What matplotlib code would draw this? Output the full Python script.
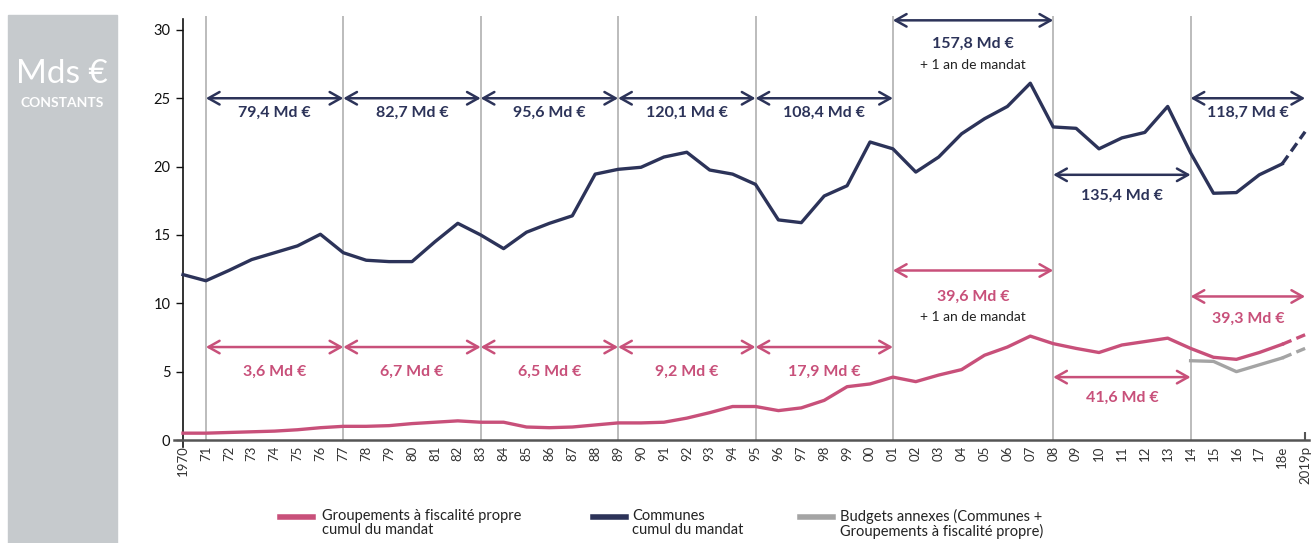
import matplotlib
matplotlib.use("Agg")
import matplotlib.pyplot as plt
from matplotlib.patches import Rectangle
from matplotlib.lines import Line2D

plt.rcParams['font.family'] = ['Lato', 'DejaVu Sans']

# Données (Mds € constants)
years = list(range(1970, 2020))
communes = [12.1, 11.65, 12.4, 13.2, 13.7, 14.2, 15.05, 13.7, 13.15, 13.05,
            13.05, 14.5, 15.85, 15.0, 14.0, 15.2, 15.85, 16.4, 19.45, 19.8,
            19.95, 20.7, 21.05, 19.75, 19.45, 18.7, 16.1, 15.9, 17.85, 18.6,
            21.8, 21.3, 19.6, 20.7, 22.4, 23.5, 24.4, 26.1, 22.9, 22.8,
            21.3, 22.1, 22.5, 24.4, 21.0, 18.05, 18.1, 19.4, 20.2, 22.55]
groupements = [0.5, 0.5, 0.55, 0.6, 0.65, 0.75, 0.9, 1.0, 1.0, 1.05,
               1.2, 1.3, 1.4, 1.3, 1.3, 0.95, 0.9, 0.95, 1.1, 1.25,
               1.25, 1.3, 1.6, 2.0, 2.45, 2.45, 2.15, 2.35, 2.9, 3.9,
               4.1, 4.6, 4.27, 4.75, 5.15, 6.2, 6.8, 7.6, 7.05, 6.7,
               6.4, 6.95, 7.2, 7.45, 6.7, 6.05, 5.9, 6.4, 7.0, 7.7]
budget_years = [2014, 2015, 2016, 2017, 2018, 2019]
budgets_annexes = [5.8, 5.75, 5.0, 5.5, 6.0, 6.7]

tick_labels = ["1970"] + [f"{y % 100:02d}" for y in range(1971, 2018)] + ["18e", "2019p"]

# Mandats et cumuls
mandat_lines = [1971, 1977, 1983, 1989, 1995, 2001, 2008, 2014]
communes_periods = [(1971, 1977), (1977, 1983), (1983, 1989), (1989, 1995),
                    (1995, 2001), (2001, 2008), (2008, 2014), (2014, 2019)]
communes_totals = ["79,4 Md €", "82,7 Md €", "95,6 Md €", "120,1 Md €",
                   "108,4 Md €", "157,8 Md €", "135,4 Md €", "118,7 Md €"]
groupements_periods = communes_periods
groupements_totals = ["3,6 Md €", "6,7 Md €", "6,5 Md €", "9,2 Md €",
                      "17,9 Md €", "39,6 Md €", "41,6 Md €", "39,3 Md €"]
extra_note = "+ 1 an de mandat"

navy = "#2c3359"
pink = "#c8507a"
grey = "#a4a4a4"

# 1 an = 22.9 px, 1 Md€ = 13.67 px ; 1970 à x=183, 0 à y=440
x_lo, x_hi = 1969.6, 2019.15
y_lo, y_hi = -0.5, 31
px_x, px_y = 22.9, 13.67
left = 183 + (x_lo - 1970) * px_x
bottom = 543 - 440 + y_lo * px_y
fig = plt.figure(figsize=(13.15, 5.43), dpi=100)
ax = fig.add_axes([left / 1315, bottom / 543,
                   (x_hi - x_lo) * px_x / 1315, (y_hi - y_lo) * px_y / 543])

# bandeau gauche
fig.patches.append(Rectangle((8 / 1315, 0), 109 / 1315, 1 - 15 / 543,
                             transform=fig.transFigure, color="#c6cacd", zorder=0))
fig.text(62 / 1315, 1 - 74 / 543, "Mds €", color="white", fontsize=24,
         fontweight="normal", ha="center", va="center")
fig.text(62 / 1315, 1 - 103 / 543, "CONSTANTS", color="white", fontsize=10,
         fontweight="bold", ha="center", va="center")

# traits verticaux des mandats
ax.vlines(mandat_lines, 0, 31, color="#a9a9a9", lw=1.1, zorder=1)

# courbes (pointillés pour 2018-2019)
ax.plot(years[:-1], communes[:-1], color=navy, lw=2.4, zorder=3)
ax.plot(years[-2:], communes[-2:], color=navy, lw=2.4, ls=(0, (3, 1.6)), zorder=3)
ax.plot(years[:-1], groupements[:-1], color=pink, lw=2.4, zorder=3)
ax.plot(years[-2:], groupements[-2:], color=pink, lw=2.4, ls=(0, (3, 1.6)), zorder=3)
ax.plot(budget_years[:-1], budgets_annexes[:-1], color=grey, lw=2.4, zorder=2)
ax.plot(budget_years[-2:], budgets_annexes[-2:], color=grey, lw=2.4, ls=(0, (3, 1.6)), zorder=2)

# flèches de cumul par mandat
navy_arrow_y = [25, 25, 25, 25, 25, 30.7, 19.4, 25]
navy_text_y = [23.9, 23.9, 23.9, 23.9, 23.9, 29.0, 17.9, 23.9]
pink_arrow_y = [6.8, 6.8, 6.8, 6.8, 6.8, 12.4, 4.6, 10.5]
pink_text_y = [5.0, 5.0, 5.0, 5.0, 5.0, 10.5, 3.1, 8.9]

def span_arrow(x0, x1, y, color):
    ax.annotate("", xy=(x1, y), xytext=(x0, y),
                arrowprops=dict(arrowstyle="<->,head_length=0.8,head_width=0.45",
                                color=color, lw=1.8, shrinkA=0, shrinkB=0),
                annotation_clip=False, zorder=4)

for (x0, x1), lab, ya, yt in zip(communes_periods, communes_totals, navy_arrow_y, navy_text_y):
    span_arrow(x0, x1, ya, navy)
    ax.text((x0 + x1) / 2, yt, lab, color=navy, fontsize=11.5, fontweight="bold",
            ha="center", va="center", zorder=5)

for (x0, x1), lab, ya, yt in zip(groupements_periods, groupements_totals, pink_arrow_y, pink_text_y):
    span_arrow(x0, x1, ya, pink)
    ax.text((x0 + x1) / 2, yt, lab, color=pink, fontsize=11.5, fontweight="bold",
            ha="center", va="center", zorder=5)

ax.text(2004.5, 27.4, extra_note, color="#222222", fontsize=10, ha="center", va="center")
ax.text(2004.5, 9.0, extra_note, color="#222222", fontsize=10, ha="center", va="center")

# axes
ax.set_xlim(x_lo, x_hi)
ax.set_ylim(y_lo, y_hi)
ax.spines["left"].set_position(("data", 1970))
ax.spines["bottom"].set_position(("data", 0))
ax.spines["top"].set_visible(False)
ax.spines["right"].set_visible(False)
ax.spines["left"].set_color("#111111")
ax.spines["bottom"].set_color("#555555")
ax.spines["left"].set_linewidth(1.2)
ax.spines["bottom"].set_linewidth(1.8)
ax.spines["left"].set_bounds(-0.5, 30.8)

ax.set_yticks([0, 5, 10, 15, 20, 25, 30])
ax.tick_params(axis="y", direction="out", length=5, width=1, colors="#111111",
               labelsize=10.5, pad=4)
ax.set_xticks(years)
ax.set_xticklabels(tick_labels, rotation=90, fontsize=9.5, color="#333333")
ax.tick_params(axis="x", length=0, pad=4)
ax.vlines([2019], 0, 0.6, color="#555555", lw=1.5)

# légende
legend_items = [(pink, "Groupements à fiscalité propre\ncumul du mandat", 280, 322),
                (navy, "Communes\ncumul du mandat", 593, 632),
                (grey, "Budgets annexes (Communes +\nGroupements à fiscalité propre)", 800, 840)]
for color, label, hx, tx in legend_items:
    fig.add_artist(Line2D([hx / 1315, (hx + 33) / 1315], [1 - 517 / 543] * 2,
                          transform=fig.transFigure, color=color, lw=4))
    fig.text(tx / 1315, 1 - 509 / 543, label, color="#222222", fontsize=10.5,
             ha="left", va="top", linespacing=1.0)

fig.savefig("out.png", dpi=100, facecolor="white")
